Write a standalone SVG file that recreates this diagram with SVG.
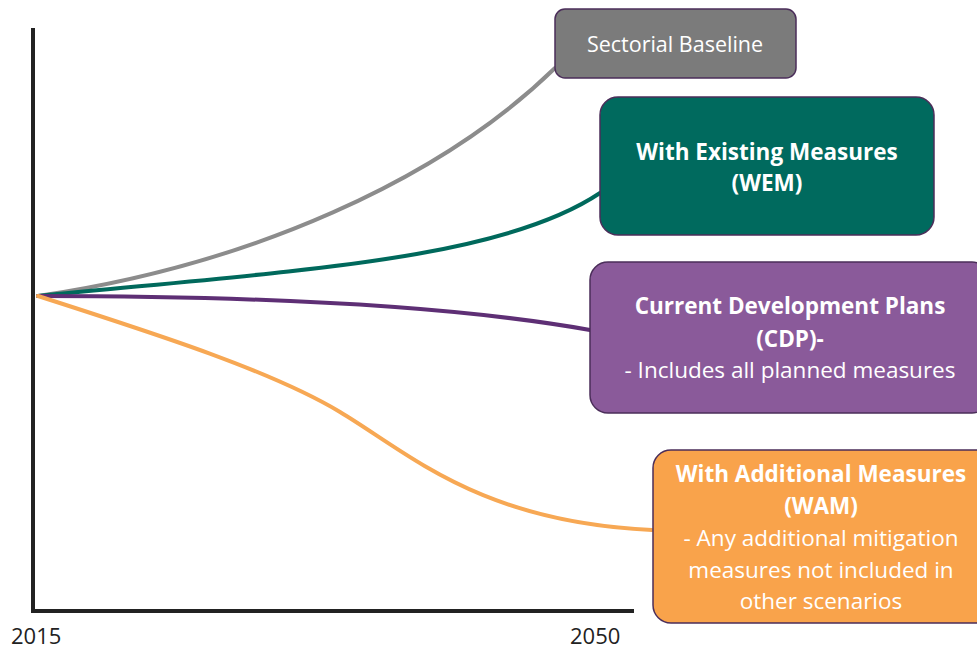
<svg xmlns="http://www.w3.org/2000/svg" width="977" height="652" viewBox="0 0 977 652">
<style>
.box{stroke:#4b2e5a;stroke-width:1.5}
.t{font-family:"Open Sans","Liberation Sans",sans-serif;fill:#ffffff;text-anchor:middle;font-size:22.5px}
.b{font-weight:bold}
.ln{fill:none;stroke-width:4;stroke-linecap:round}
.ax{font-family:"Open Sans","Liberation Sans",sans-serif;fill:#222;font-size:22px}
</style>
<rect width="977" height="652" fill="#ffffff"/>
<g id="axes">
<path d="M33,28 V611 H634" fill="none" stroke="#222222" stroke-width="4"/>
<text class="ax" x="11" y="644">2015</text>
<text class="ax" x="570" y="644">2050</text>
</g>
<g id="connectors">
<path class="ln" stroke="#8c8c8c" d="M38,296 C250,265 440,180 555,68"/>
<path class="ln" stroke="#00695c" d="M38,296 C300,270 500,260 600,193"/>
<path class="ln" stroke="#5e2f75" d="M38,296 C250,296 450,305 590,330"/>
<path class="ln" stroke="#f7a854" d="M38,296 C150,332 270,370 340,412 C410,454 480,522 652,530"/>
</g>
<g id="baseline">
<rect class="box" x="555" y="9" width="241" height="69" rx="10" fill="#7b7b7b"/>
<text class="t" x="675" y="52" style="font-size:21.5px">Sectorial Baseline</text>
</g>
<g id="wem">
<rect class="box" x="600" y="97" width="334" height="138" rx="18" fill="#006a5e"/>
<text class="t b" x="767" y="160">With Existing Measures</text>
<text class="t b" x="767" y="191">(WEM)</text>
</g>
<g id="cdp">
<rect class="box" x="590" y="262" width="400" height="151" rx="18" fill="#8a5a9a"/>
<text class="t b" x="790" y="314">Current Development Plans</text>
<text class="t b" x="790" y="347">(CDP)-</text>
<text class="t" x="790" y="378">- Includes all planned measures</text>
</g>
<g id="wam">
<rect class="box" x="653" y="450" width="340" height="173" rx="18" fill="#f9a34b"/>
<text class="t b" x="821" y="482">With Additional Measures</text>
<text class="t b" x="821" y="514">(WAM)</text>
<text class="t" x="821" y="546">- Any additional mitigation</text>
<text class="t" x="821" y="578">measures not included in</text>
<text class="t" x="821" y="609">other scenarios</text>
</g>
</svg>
